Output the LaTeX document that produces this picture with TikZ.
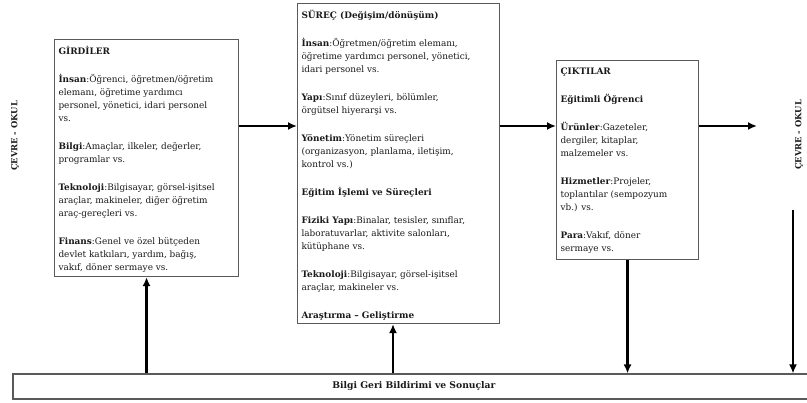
\documentclass[tikz,border=0pt]{standalone}
\usepackage{fontspec}
\setmainfont{DejaVu Serif}
\usetikzlibrary{arrows.meta, positioning}
\definecolor{boxgray}{HTML}{5A5A5A}
\definecolor{ink}{HTML}{1A1A1A}
\newcommand{\stagetext}[3]{\parbox[t][#1][t]{#2}{\raggedright
  \fontsize{8.9}{13}\selectfont\setlength{\parskip}{15pt}#3}}
\tikzset{
  stagebox/.style={draw=boxgray, line width=1.1pt, fill=white, text=ink,
    inner xsep=4pt, inner ysep=7pt, anchor=north west},
  flow/.style={line width=2.6pt, -{Latex[length=9pt, width=8pt]}},
  envlbl/.style={rotate=90, font=\bfseries\fontsize{8.4}{9}\selectfont, text=ink},
  fbbox/.style={draw=boxgray, line width=1.1pt, minimum width=802pt,
    minimum height=25pt, font=\bfseries\fontsize{9.2}{10}\selectfont, text=ink}
}

\begin{document}
\begin{tikzpicture}[x=1pt, y=-1pt]
  \useasboundingbox (0,0) rectangle (807,403);

  % ---- Inputs --------------------------------------------------------------
  \node[stagebox] (girdi) at (54,39) {\stagetext{223pt}{176pt}{%
    \textbf{GİRDİLER}

    \textbf{İnsan}:Öğrenci, öğretmen/öğretim\\
    elemanı, öğretime yardımcı\\
    personel, yönetici, idari personel\\
    vs.

    \textbf{Bilgi}:Amaçlar, ilkeler, değerler,\\
    programlar vs.

    \textbf{Teknoloji}:Bilgisayar, görsel-işitsel\\
    araçlar, makineler, diğer öğretim\\
    araç-gereçleri vs.

    \textbf{Finans}:Genel ve özel bütçeden\\
    devlet katkıları, yardım, bağış,\\
    vakıf, döner sermaye vs.}};

  % ---- Process -------------------------------------------------------------
  \node[stagebox] (surec) at (297,3) {\stagetext{306pt}{194pt}{%
    \textbf{SÜREÇ (Değişim/dönüşüm)}

    \textbf{İnsan}:Öğretmen/öğretim elemanı,\\
    öğretime yardımcı personel, yönetici,\\
    idari personel vs.

    \textbf{Yapı}:Sınıf düzeyleri, bölümler,\\
    örgütsel hiyerarşi vs.

    \textbf{Yönetim}:Yönetim süreçleri\\
    (organizasyon, planlama, iletişim,\\
    kontrol vs.)

    \textbf{Eğitim İşlemi ve Süreçleri}

    \textbf{Fiziki Yapı}:Binalar, tesisler, sınıflar,\\
    laboratuvarlar, aktivite salonları,\\
    kütüphane vs.

    \textbf{Teknoloji}:Bilgisayar, görsel-işitsel\\
    araçlar, makineler vs.

    \textbf{Araştırma – Geliştirme}}};

  % ---- Outputs -------------------------------------------------------------
  \node[stagebox] (cikti) at (556,60) {\stagetext{185pt}{134pt}{%
    \textbf{ÇIKTILAR}

    \textbf{Eğitimli Öğrenci}

    \textbf{Ürünler}:Gazeteler,\\
    dergiler, kitaplar,\\
    malzemeler vs.

    \textbf{Hizmetler}:Projeler,\\
    toplantılar (sempozyum\\
    vb.) vs.

    \textbf{Para}:Vakıf, döner\\
    sermaye vs.}};

  % ---- Feedback strip and environment -------------------------------------
  \node[fbbox] (geri) at (414,386.5) {Bilgi Geri Bildirimi ve Sonuçlar};
  \node[envlbl] (envL) at (15,136) {ÇEVRE - OKUL};
  \node[envlbl] (envR) at (799,135) {ÇEVRE - OKUL};

  % ---- Flows ---------------------------------------------------------------
  \coordinate (lvl) at (0,126);
  \coordinate (outtip) at (757,126);
  \coordinate (envtop) at (793,210);
  \coordinate (midup) at (393,0);
  \draw[flow] (girdi.east |- lvl) -- (surec.west |- lvl);
  \draw[flow] (surec.east |- lvl) -- (cikti.west |- lvl);
  \draw[flow] (cikti.east |- outtip) -- (outtip);
  \draw[flow] (cikti.south) -- (cikti.south |- geri.north);
  \draw[flow] (envtop) -- (envtop |- geri.north);
  \draw[flow] (girdi.south |- geri.north) -- (girdi.south);
  \draw[flow] (midup |- geri.north) -- (midup |- surec.south);

\end{tikzpicture}
\end{document}
